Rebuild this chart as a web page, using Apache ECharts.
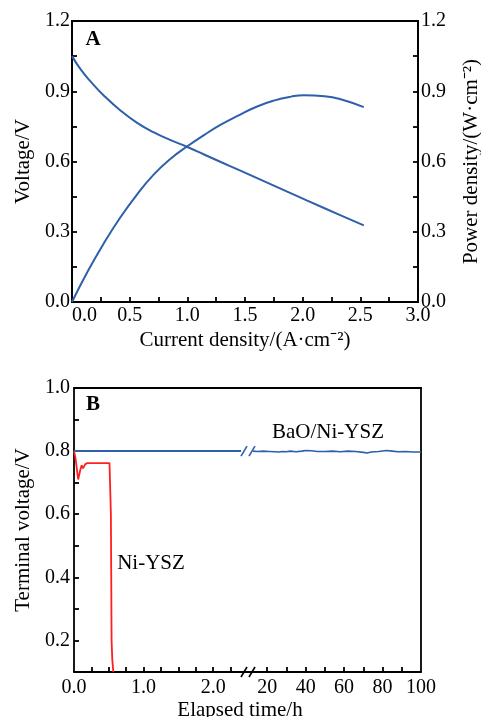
<!DOCTYPE html>
<html>
<head>
<meta charset="utf-8">
<script src="https://cdn.jsdelivr.net/npm/echarts@6/dist/echarts.min.js"></script>
<style>
    html, body { margin: 0; padding: 0; background: #fff; }
    #main { width: 481px; height: 717px; }
</style>
</head>
<body>
<div id="main"></div>
<script>
// ---- 图A：电流密度 - 电压 / 功率密度 ----
const currentV = [0, 0.08, 0.17, 0.275, 0.42, 0.565, 0.71, 0.855, 1.0, 1.145, 1.29, 1.46, 1.75, 2.04, 2.33, 2.53];
const voltage = [1.05, 0.99, 0.937, 0.882, 0.818, 0.765, 0.724, 0.691, 0.662, 0.63, 0.598, 0.561, 0.497, 0.433, 0.37, 0.327];
const currentP = [0, 0.13, 0.275, 0.42, 0.565, 0.71, 0.855, 1.0, 1.145, 1.29, 1.435, 1.6, 1.75, 1.9, 2.01, 2.19, 2.33, 2.53];
const power = [0, 0.125, 0.25, 0.362, 0.46, 0.545, 0.612, 0.665, 0.713, 0.757, 0.795, 0.834, 0.86, 0.877, 0.883, 0.879, 0.866, 0.832];

const tickA_x = [0.25, 0.5, 0.75, 1.0, 1.25, 1.5, 1.75, 2.0, 2.25, 2.5, 2.75];
const labelA_x = [0, 0.5, 1.0, 1.5, 2.0, 2.5, 3.0];
const tickA_y = [0.15, 0.3, 0.45, 0.6, 0.75, 0.9, 1.05];
const labelA_y = [0, 0.3, 0.6, 0.9, 1.2];

// ---- 图B：运行时间 - 端电压（断轴）----
const timeBaoLeft = [0, 2.4];
const voltBaoLeft = [0.8, 0.8];
const timeBaoRight = [12.5, 15, 18, 21, 24, 26, 27, 28, 29, 30, 31, 32, 33, 35, 38, 40, 43, 46, 50, 54, 58, 62, 66, 70, 72, 74, 78, 82, 85, 88, 92, 96, 100];
const voltBaoRight = [0.8, 0.799, 0.8, 0.799, 0.798, 0.797, 0.794, 0.799, 0.793, 0.798, 0.795, 0.8, 0.797, 0.798, 0.8, 0.802, 0.801, 0.799, 0.799, 0.8, 0.798, 0.8, 0.799, 0.796, 0.794, 0.797, 0.799, 0.802, 0.8, 0.798, 0.799, 0.797, 0.797];
const timeNi = [0, 0.02, 0.06, 0.09, 0.11, 0.13, 0.16, 0.19, 0.3, 0.4, 0.51, 0.525, 0.53, 0.535, 0.54, 0.55, 0.565];
const voltNi = [0.8, 0.78, 0.71, 0.74, 0.755, 0.745, 0.758, 0.762, 0.762, 0.762, 0.762, 0.76, 0.6, 0.4, 0.2, 0.14, 0.1];

const tickB_xl = [0.25, 0.5, 0.75, 1.0, 1.25, 1.5, 1.75, 2.0, 2.25];
const labelB_xl = [0, 1.0, 2.0];
const tickB_xr = [20, 30, 40, 50, 60, 70, 80, 90];
const labelB_xr = [20, 40, 60, 80, 100];
const tickB_y = [0.2, 0.3, 0.4, 0.5, 0.6, 0.7, 0.8, 0.9];
const labelB_y = [0.2, 0.4, 0.6, 0.8, 1.0];

const serif = "'Liberation Serif', 'Times New Roman', serif";
const blue = '#2d5fab';
const red = '#ff1f1f';

function zip(xs, ys) {
    return xs.map((x, i) => [x, ys[i]]);
}

const lineStyleAxis = { color: '#000', width: 1.8 };
const labelBase = { color: '#000', fontSize: 20, fontFamily: serif };
const nameBase = { color: '#000', fontSize: 21, fontFamily: serif };

let chartDom = document.getElementById('main');
let chart = echarts.init(chartDom);

let option = {
    animation: false,
    grid: [
        { left: 72, top: 21, width: 346, height: 281, show: true, borderColor: '#000', borderWidth: 1.8, outerBoundsMode: 'none' },
        { left: 74, top: 388, width: 174, height: 284, outerBoundsMode: 'none' },
        { left: 248, top: 388, width: 173, height: 284, outerBoundsMode: 'none' },
    ],
    xAxis: [
        {
            gridIndex: 0, type: 'value', min: 0, max: 3,
            axisLine: { lineStyle: lineStyleAxis },
            axisTick: { inside: true, length: 5, customValues: tickA_x, lineStyle: lineStyleAxis },
            axisLabel: Object.assign({ customValues: labelA_x, margin: 4, alignMinLabel: 'left', formatter: v => v.toFixed(1) }, labelBase),
            splitLine: { show: false },
            name: 'Current density/(A·cm⁻²)', nameLocation: 'middle', nameGap: 28,
            nameTextStyle: nameBase,
        },
        {
            gridIndex: 1, type: 'value', min: 0, max: 2.5,
            axisLine: { lineStyle: lineStyleAxis },
            axisTick: { inside: true, length: 5, customValues: tickB_xl, lineStyle: lineStyleAxis },
            axisLabel: Object.assign({ customValues: labelB_xl, margin: 6, formatter: v => v.toFixed(1) }, labelBase),
            splitLine: { show: false },
        },
        {
            gridIndex: 2, type: 'value', min: 10, max: 100,
            axisLine: { lineStyle: lineStyleAxis },
            axisTick: { inside: true, length: 5, customValues: tickB_xr, lineStyle: lineStyleAxis },
            axisLabel: Object.assign({ customValues: labelB_xr, margin: 6, formatter: v => String(v) }, labelBase),
            splitLine: { show: false },
        },
        // 图B 顶部边框
        {
            gridIndex: 1, type: 'value', position: 'top', min: 0, max: 2.5,
            axisLine: { lineStyle: lineStyleAxis },
            axisTick: { show: false }, axisLabel: { show: false }, splitLine: { show: false },
        },
        {
            gridIndex: 2, type: 'value', position: 'top', min: 10, max: 100,
            axisLine: { lineStyle: lineStyleAxis },
            axisTick: { show: false }, axisLabel: { show: false }, splitLine: { show: false },
        },
    ],
    yAxis: [
        {
            gridIndex: 0, type: 'value', min: 0, max: 1.2,
            axisLine: { show: true, lineStyle: lineStyleAxis },
            axisTick: { show: true, inside: true, length: 5, customValues: tickA_y, lineStyle: lineStyleAxis },
            axisLabel: Object.assign({ customValues: labelA_y, margin: 2, formatter: v => v.toFixed(1) }, labelBase),
            splitLine: { show: false },
            name: 'Voltage/V', nameLocation: 'middle', nameGap: 38, nameRotate: 90,
            nameTextStyle: nameBase,
        },
        {
            gridIndex: 0, type: 'value', position: 'right', min: 0, max: 1.2,
            axisLine: { show: true, lineStyle: lineStyleAxis },
            axisTick: { show: true, inside: true, length: 5, customValues: tickA_y, lineStyle: lineStyleAxis },
            axisLabel: Object.assign({ customValues: labelA_y, margin: 3, formatter: v => v.toFixed(1) }, labelBase),
            splitLine: { show: false },
            name: 'Power density/(W·cm⁻²)', nameLocation: 'middle', nameGap: 43, nameRotate: 90,
            nameTextStyle: nameBase,
        },
        {
            gridIndex: 1, type: 'value', min: 0.1, max: 1.0,
            axisLine: { show: true, lineStyle: lineStyleAxis },
            axisTick: { show: true, inside: true, length: 5, customValues: tickB_y, lineStyle: lineStyleAxis },
            axisLabel: Object.assign({ customValues: labelB_y, margin: 4, formatter: v => v.toFixed(1) }, labelBase),
            splitLine: { show: false },
            name: 'Terminal voltage/V', nameLocation: 'middle', nameGap: 40, nameRotate: 90,
            nameTextStyle: nameBase,
        },
        {
            gridIndex: 2, type: 'value', position: 'right', min: 0.1, max: 1.0,
            axisLine: { show: true, lineStyle: lineStyleAxis },
            axisTick: { show: false }, axisLabel: { show: false }, splitLine: { show: false },
        },
    ],
    series: [
        {
            name: 'Voltage', type: 'line', xAxisIndex: 0, yAxisIndex: 0,
            data: zip(currentV, voltage), smooth: 0.5, showSymbol: false,
            lineStyle: { color: blue, width: 2 },
        },
        {
            name: 'Power', type: 'line', xAxisIndex: 0, yAxisIndex: 1,
            data: zip(currentP, power), smooth: 0.5, showSymbol: false,
            lineStyle: { color: blue, width: 2 },
        },
        {
            name: 'BaO/Ni-YSZ', type: 'line', xAxisIndex: 1, yAxisIndex: 2,
            data: zip(timeBaoLeft, voltBaoLeft), showSymbol: false,
            lineStyle: { color: blue, width: 2 },
        },
        {
            name: 'BaO/Ni-YSZ', type: 'line', xAxisIndex: 2, yAxisIndex: 3,
            data: zip(timeBaoRight, voltBaoRight), showSymbol: false,
            lineStyle: { color: blue, width: 1.6 },
        },
        {
            name: 'Ni-YSZ', type: 'line', xAxisIndex: 1, yAxisIndex: 2,
            data: zip(timeNi, voltNi), showSymbol: false,
            lineStyle: { color: red, width: 1.8 },
        },
    ],
};
chart.setOption(option);

// 断轴标记与文字
let pB = chart.convertToPixel({ xAxisIndex: 1, yAxisIndex: 2 }, [2.5, 0.1]);
let pL = chart.convertToPixel({ xAxisIndex: 1, yAxisIndex: 2 }, [2.5, 0.8]);

function breakMark(cx, cy, color) {
    return [
        { type: 'line', shape: { x1: cx - 7, y1: cy + 5, x2: cx - 1, y2: cy - 5 }, style: { stroke: color, lineWidth: 1.6 } },
        { type: 'line', shape: { x1: cx + 1, y1: cy + 5, x2: cx + 7, y2: cy - 5 }, style: { stroke: color, lineWidth: 1.6 } },
    ];
}

function label(text, x, y, bold) {
    return {
        type: 'text', x: x, y: y,
        style: {
            text: text, fill: '#000', align: 'center', verticalAlign: 'middle',
            font: (bold ? 'bold ' : '') + '21px ' + serif,
        },
    };
}

chart.setOption({
    graphic: [
        { type: 'rect', shape: { x: pB[0] - 5, y: pB[1] - 3, width: 10, height: 6 }, style: { fill: '#fff' } },
        ...breakMark(pB[0], pB[1], '#000'),
        ...breakMark(pL[0], pL[1], blue),
        label('A', 93, 40, true),
        label('B', 93, 405, true),
        label('BaO/Ni-YSZ', 328, 432, false),
        label('Ni-YSZ', 151, 563, false),
        label('Elapsed time/h', 240, 710, false),
    ],
});
</script>
</body>
</html>
